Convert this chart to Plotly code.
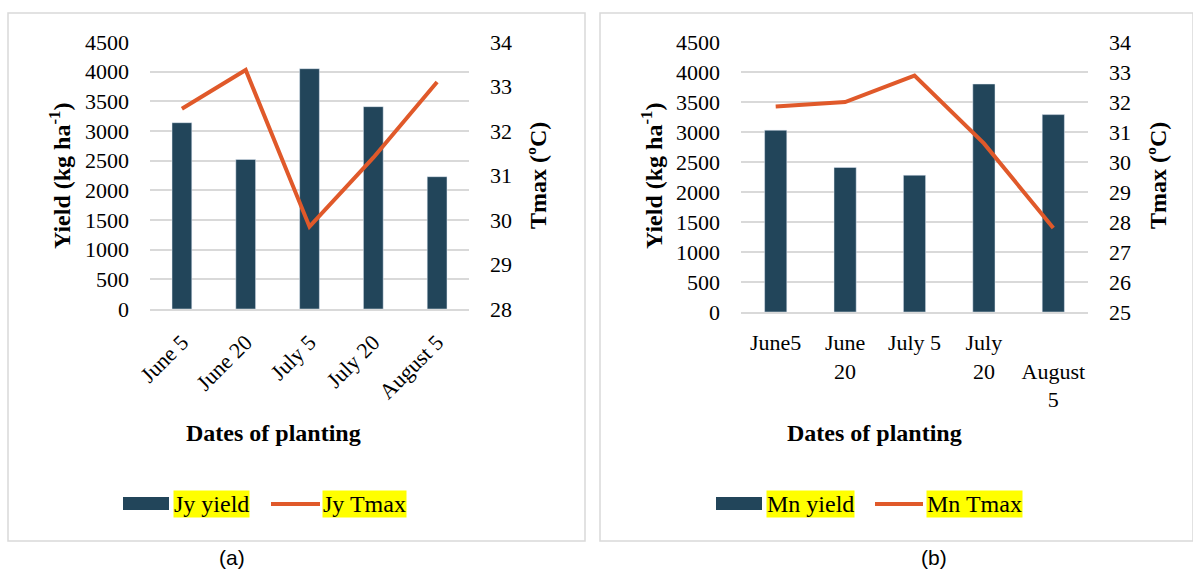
import plotly.graph_objects as go

W, H = 1193, 571

# ---------------- data ----------------
cats_a = ["June 5", "June 20", "July 5", "July 20", "August 5"]
yield_a = [3140, 2520, 4050, 3410, 2230]
tmax_a = [32.5, 33.37, 29.85, 31.4, 33.1]

cats_b = ["June5", "June<br>20", "July 5", "July<br>20", "\u00a0<br>August<br>5"]
yield_b = [3030, 2410, 2280, 3800, 3290]
tmax_b = [31.85, 32.0, 32.88, 30.62, 27.8]

yield_ticks = [0, 500, 1000, 1500, 2000, 2500, 3000, 3500, 4000, 4500]
tmax_ticks_a = [28, 29, 30, 31, 32, 33, 34]
tmax_ticks_b = [25, 26, 27, 28, 29, 30, 31, 32, 33, 34]

names_a = ["Jy yield", "Jy Tmax"]
names_b = ["Mn yield", "Mn Tmax"]

# ---------------- styles ----------------
BAR = "#22455A"
LINE = "#E0592A"
GRID = "#D9D9D9"
SERIF = "Liberation Serif"
TF = dict(family=SERIF, size=22, color="black")


def px(x):
    return x / W


def py(y):
    return 1 - y / H


fig = go.Figure()

# panel (a)
fig.add_trace(go.Bar(x=cats_a, y=yield_a, marker_color=BAR, width=0.31,
                     name=names_a[0], xaxis="x", yaxis="y", showlegend=False))
fig.add_trace(go.Scatter(x=cats_a, y=tmax_a, mode="lines", line=dict(color=LINE, width=4),
                         name=names_a[1], xaxis="x", yaxis="y2", showlegend=False))
# panel (b)
fig.add_trace(go.Bar(x=cats_b, y=yield_b, marker_color=BAR, width=0.32,
                     name=names_b[0], xaxis="x2", yaxis="y3", showlegend=False))
fig.add_trace(go.Scatter(x=cats_b, y=tmax_b, mode="lines", line=dict(color=LINE, width=4),
                         name=names_b[1], xaxis="x2", yaxis="y4", showlegend=False))

yl = dict(showgrid=True, gridcolor=GRID, gridwidth=1.5, zeroline=False, showline=False,
          ticks="", tickfont=TF, ticklabelstandoff=20, tickvals=yield_ticks,
          range=[0, 4500], fixedrange=True, automargin=False)

fig.update_layout(
    width=W, height=H,
    margin=dict(l=0, r=0, t=0, b=0, autoexpand=False),
    paper_bgcolor="white", plot_bgcolor="white",
    showlegend=False,
    xaxis=dict(domain=[px(150), px(469)], anchor="y", type="category",
               tickangle=-45, tickfont=TF, ticks="", showline=True,
               linecolor=GRID, linewidth=1.5, ticklabelstandoff=10, showgrid=False,
               automargin=False),
    yaxis=dict(domain=[py(309), py(42)], anchor="x", **yl),
    yaxis2=dict(domain=[py(309), py(42)], anchor="x", overlaying="y", side="right",
                range=[28, 34], tickvals=tmax_ticks_a, showgrid=False, zeroline=False,
                ticks="", tickfont=TF, ticklabelstandoff=20, automargin=False),
    xaxis2=dict(domain=[px(741), px(1088)], anchor="y3", type="category",
                tickangle=0, tickfont=TF, ticks="", showline=True,
                linecolor=GRID, linewidth=1.5, ticklabelstandoff=10, showgrid=False,
                automargin=False),
    yaxis3=dict(domain=[py(312), py(42)], anchor="x2", **yl),
    yaxis4=dict(domain=[py(312), py(42)], anchor="x2", overlaying="y3", side="right",
                range=[25, 34], tickvals=tmax_ticks_b, showgrid=False, zeroline=False,
                ticks="", tickfont=TF, ticklabelstandoff=20, automargin=False),
)

shapes = []
# panel borders
shapes.append(dict(type="rect", xref="paper", yref="paper", x0=px(8), x1=px(585),
                   y0=py(541), y1=py(13), line=dict(color=GRID, width=1.5)))
shapes.append(dict(type="rect", xref="paper", yref="paper", x0=px(600), x1=1.0,
                   y0=py(541), y1=py(13), line=dict(color=GRID, width=1.5)))

ann = []
TITLE = dict(family=SERIF, size=24, color="black")


def add_ann(text, x, y, font, xanchor="center", **kw):
    ann.append(dict(text=text, x=px(x), y=py(y), xref="paper", yref="paper",
                    showarrow=False, font=font, xanchor=xanchor, yanchor="middle", **kw))


for lx, rx in [(60, 538), (652, 1158)]:
    add_ann("<b>Yield (kg ha<sup>-1</sup>)</b>", lx, 176, TITLE, textangle=-90)
    add_ann("<b>Tmax (ºC)</b>", rx, 176, TITLE, textangle=-90)

add_ann("<b>Dates of planting</b>", 273, 433, TITLE)
add_ann("<b>Dates of planting</b>", 874, 433, TITLE)

# custom legends
LEGF = dict(family=SERIF, size=24, color="black")
for (bx0, bx1, tx1, lx0, lx1, tx2), nm in [((123, 169, 173, 271, 320, 322), names_a),
                                           ((716, 762, 766, 875, 923, 926), names_b)]:
    shapes.append(dict(type="rect", xref="paper", yref="paper", x0=px(bx0), x1=px(bx1),
                       y0=py(510), y1=py(497), fillcolor=BAR, line=dict(width=0)))
    shapes.append(dict(type="line", xref="paper", yref="paper", x0=px(lx0), x1=px(lx1),
                       y0=py(504), y1=py(504), line=dict(color=LINE, width=4)))
    add_ann(nm[0], tx1, 504, LEGF, xanchor="left", bgcolor="#FFFF00", borderpad=0)
    add_ann(nm[1], tx2, 504, LEGF, xanchor="left", bgcolor="#FFFF00", borderpad=0)

add_ann("(a)", 232, 557, dict(family="Liberation Sans", size=21, color="black"))
add_ann("(b)", 934, 557, dict(family="Liberation Sans", size=21, color="black"))

fig.update_layout(shapes=shapes, annotations=ann)
fig.write_html("out.html")
